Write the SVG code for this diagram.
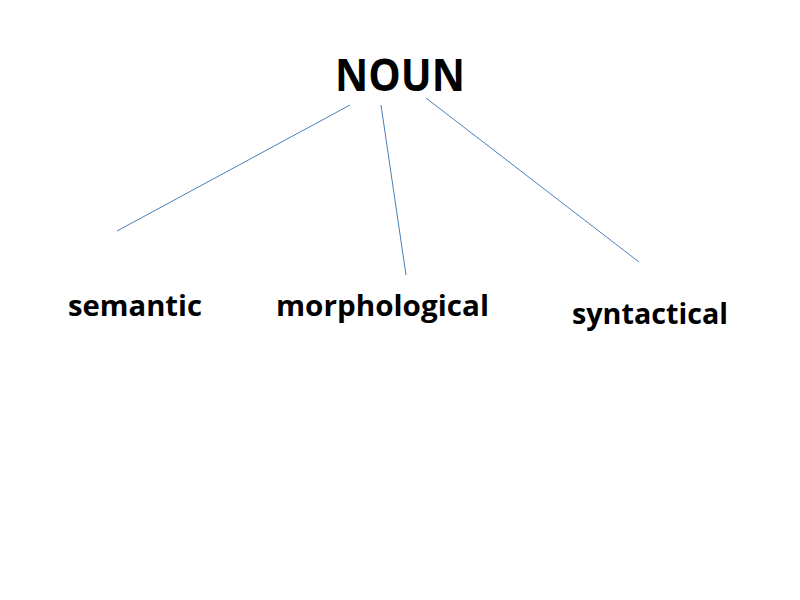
<svg xmlns="http://www.w3.org/2000/svg" width="800" height="600" viewBox="0 0 800 600">
<style>
text{font-family:"Open Sans","Liberation Sans",sans-serif;font-weight:bold;fill:#000}
.c line{stroke:#4a7ebb;stroke-width:1}
</style>
<rect width="800" height="600" fill="#fff"/>
<g class="c" id="connectors">
<line x1="350" y1="105" x2="117" y2="231"/>
<line x1="381" y1="105" x2="406" y2="275"/>
<line x1="426" y1="98" x2="639" y2="262"/>
</g>
<g id="noun"><text x="335" y="91" font-size="44" textLength="130" lengthAdjust="spacingAndGlyphs">NOUN</text></g>
<g id="semantic"><text x="68" y="316" font-size="29" textLength="134" lengthAdjust="spacingAndGlyphs">semantic</text></g>
<g id="morphological"><text x="276" y="316" font-size="29" textLength="213" lengthAdjust="spacingAndGlyphs">morphological</text></g>
<g id="syntactical"><text x="572" y="324" font-size="29" textLength="156" lengthAdjust="spacingAndGlyphs">syntactical</text></g>
</svg>
